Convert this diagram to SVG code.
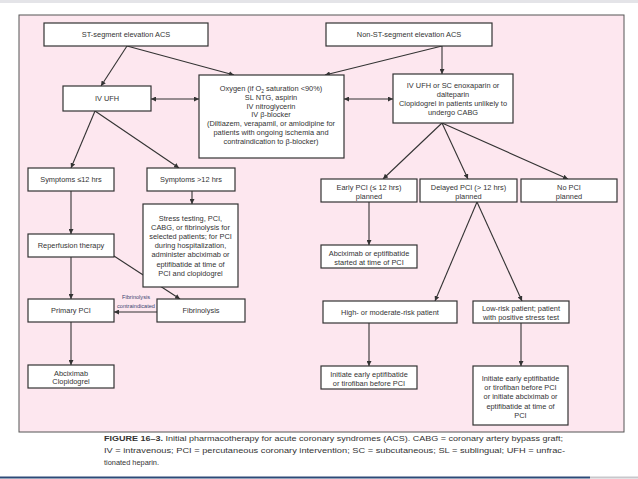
<svg xmlns="http://www.w3.org/2000/svg" width="638" height="479" viewBox="0 0 638 479">
<defs>
<marker id="ah" viewBox="0 0 6 6" refX="6" refY="3" markerWidth="5" markerHeight="5" markerUnits="userSpaceOnUse" orient="auto-start-reverse">
<path d="M0,0 L6,3 L0,6 z" fill="#333"/>
</marker>
<style>
.bx{fill:#fff;stroke:#333;stroke-width:1.2}
.t{font-family:"Liberation Sans",Arial,sans-serif;font-size:7.4px;fill:#333;text-anchor:middle}
.c line{stroke:#333;stroke-width:1.1;marker-end:url(#ah)}
.c line.d{marker-start:url(#ah)}
.cap{font-family:"Liberation Sans",Arial,sans-serif;font-size:8px;fill:#333}
.lab{font-family:"Liberation Sans",Arial,sans-serif;font-size:5.6px;fill:#3b4670;text-anchor:middle}
</style>
</defs>
<rect x="0" y="0" width="638" height="479" fill="#fff"/>
<rect x="0" y="0" width="638" height="3" fill="#e4e4e8"/>
<rect x="19" y="15" width="605" height="417" fill="#fde7ef" stroke="#555" stroke-width="1"/>

<g class="c" id="connectors">
<line x1="127" y1="46" x2="101" y2="86"/>
<line x1="127" y1="46" x2="234" y2="75"/>
<line class="d" x1="151" y1="99" x2="199" y2="99"/>
<line x1="442" y1="46" x2="325" y2="75"/>
<line x1="442" y1="46" x2="442" y2="74"/>
<line class="d" x1="344" y1="99" x2="393" y2="99"/>
<line x1="95" y1="111" x2="71" y2="168"/>
<line x1="95" y1="111" x2="179" y2="168"/>
<line x1="71" y1="191" x2="71" y2="234"/>
<line x1="192" y1="191" x2="192" y2="204"/>
<line x1="71" y1="257" x2="71" y2="299"/>
<line x1="114" y1="256" x2="180" y2="299"/>
<line x1="157" y1="312" x2="114" y2="312"/>
<line x1="71" y1="322" x2="71" y2="365"/>
<line x1="442" y1="123" x2="383" y2="179"/>
<line x1="442" y1="123" x2="468" y2="179"/>
<line x1="442" y1="123" x2="568" y2="179"/>
<line x1="369" y1="202" x2="369" y2="245"/>
<line x1="477" y1="202" x2="435" y2="301"/>
<line x1="477" y1="202" x2="522" y2="301"/>
<line x1="369" y1="323" x2="369" y2="366"/>
<line x1="521" y1="323" x2="521" y2="366"/>
<text class="lab" x="136" y="299">Fibrinolysis</text>
<text class="lab" x="136" y="308">contraindicated</text>
</g>

<g id="stemi"><rect class="bx" x="44" y="23" width="164" height="23"/><text class="t" x="126" y="37">ST-segment elevation ACS</text></g>
<g id="nstemi"><rect class="bx" x="326" y="23" width="166" height="23"/><text class="t" x="409" y="37">Non-ST-segment elevation ACS</text></g>
<g id="ivufh"><rect class="bx" x="63" y="86" width="88" height="25"/><text class="t" x="107" y="101">IV UFH</text></g>
<g id="oxygen"><rect class="bx" x="199" y="75" width="145" height="83"/>
<text class="t" x="271" y="91">Oxygen (if O<tspan font-size="5" dy="1.5">2</tspan><tspan dy="-1.5"> saturation &lt;90%)</tspan></text>
<text class="t" x="271" y="100">SL NTG, aspirin</text>
<text class="t" x="271" y="108.5">IV nitroglycerin</text>
<text class="t" x="271" y="117">IV β-blocker</text>
<text class="t" x="271" y="126">(Diltiazem, verapamil, or amlodipine for</text>
<text class="t" x="271" y="134.5">patients with ongoing ischemia and</text>
<text class="t" x="271" y="143.5">contraindication to β-blocker)</text>
</g>
<g id="ivufhsc"><rect class="bx" x="393" y="74" width="120" height="49"/>
<text class="t" x="453" y="87.5">IV UFH or SC enoxaparin or</text>
<text class="t" x="453" y="96.5">dalteparin</text>
<text class="t" x="453" y="105.5">Clopidogrel in patients unlikely to</text>
<text class="t" x="453" y="114.5">undergo CABG</text>
</g>
<g id="sym12"><rect class="bx" x="28" y="168" width="86" height="23"/><text class="t" x="71" y="182">Symptoms ≤12 hrs</text></g>
<g id="symgt12"><rect class="bx" x="147" y="168" width="88" height="23"/><text class="t" x="191" y="182">Symptoms &gt;12 hrs</text></g>
<g id="stress"><rect class="bx" x="143" y="204" width="95" height="83"/>
<text class="t" x="190.5" y="220.5">Stress testing, PCI,</text>
<text class="t" x="190.5" y="229.5">CABG, or fibrinolysis for</text>
<text class="t" x="190.5" y="239">selected patients; for PCI</text>
<text class="t" x="190.5" y="248">during hospitalization,</text>
<text class="t" x="190.5" y="257">administer abciximab or</text>
<text class="t" x="190.5" y="266.5">eptifibatide at time of</text>
<text class="t" x="190.5" y="276">PCI and clopidogrel</text>
</g>
<g id="reperf"><rect class="bx" x="28" y="234" width="86" height="23"/><text class="t" x="71" y="248">Reperfusion therapy</text></g>
<g id="primarypci"><rect class="bx" x="28" y="299" width="86" height="23"/><text class="t" x="71" y="313">Primary PCI</text></g>
<g id="fibrinolysis"><rect class="bx" x="157" y="299" width="88" height="23"/><text class="t" x="201" y="313">Fibrinolysis</text></g>
<g id="abcclop"><rect class="bx" x="28" y="365" width="86" height="23"/>
<text class="t" x="71" y="375.5">Abciximab</text><text class="t" x="71" y="384">Clopidogrel</text></g>
<g id="earlypci"><rect class="bx" x="321" y="179" width="96" height="23"/>
<text class="t" x="369" y="189.5">Early PCI (≤ 12 hrs)</text><text class="t" x="369" y="198.5">planned</text></g>
<g id="delayedpci"><rect class="bx" x="420" y="179" width="97" height="23"/>
<text class="t" x="468.5" y="189.5">Delayed PCI (&gt; 12 hrs)</text><text class="t" x="468.5" y="198.5">planned</text></g>
<g id="nopci"><rect class="bx" x="521" y="179" width="96" height="23"/>
<text class="t" x="569" y="189.5">No PCI</text><text class="t" x="569" y="198.5">planned</text></g>
<g id="abcept"><rect class="bx" x="321" y="245" width="96" height="23"/>
<text class="t" x="369" y="255.5">Abciximab or eptifibatide</text><text class="t" x="369" y="264.5">started at time of PCI</text></g>
<g id="highrisk"><rect class="bx" x="323" y="301" width="134" height="22"/><text class="t" x="390" y="315">High- or moderate-risk patient</text></g>
<g id="lowrisk"><rect class="bx" x="473" y="301" width="96" height="22"/>
<text class="t" x="521" y="310.5">Low-risk patient; patient</text><text class="t" x="521" y="319.5">with positive stress test</text></g>
<g id="initearly"><rect class="bx" x="321" y="366" width="96" height="23"/>
<text class="t" x="369" y="376.5">Initiate early eptifibatide</text><text class="t" x="369" y="385.5">or tirofiban before PCI</text></g>
<g id="initearly2"><rect class="bx" x="473" y="366" width="95" height="59"/>
<text class="t" x="520.5" y="380.5">Initiate early eptifibatide</text>
<text class="t" x="520.5" y="389.5">or tirofiban before PCI</text>
<text class="t" x="520.5" y="399">or initiate abciximab or</text>
<text class="t" x="520.5" y="408.5">eptifibatide at time of</text>
<text class="t" x="520.5" y="418">PCI</text>
</g>

<g id="caption">
<text class="cap" x="104" y="441" textLength="459" lengthAdjust="spacingAndGlyphs"><tspan font-weight="bold">FIGURE 16–3.</tspan> Initial pharmacotherapy for acute coronary syndromes (ACS). CABG = coronary artery bypass graft;</text>
<text class="cap" x="104" y="453" textLength="461" lengthAdjust="spacingAndGlyphs">IV = intravenous; PCI = percutaneous coronary intervention; SC = subcutaneous; SL = sublingual; UFH = unfrac-</text>
<text class="cap" x="104" y="465" textLength="55" lengthAdjust="spacingAndGlyphs">tionated heparin.</text>
</g>
<line x1="0" y1="477.5" x2="590" y2="477.5" stroke="#2d4a78" stroke-width="2"/>
<line x1="590" y1="477.5" x2="638" y2="477.5" stroke="#c8c8cc" stroke-width="2"/>
</svg>
